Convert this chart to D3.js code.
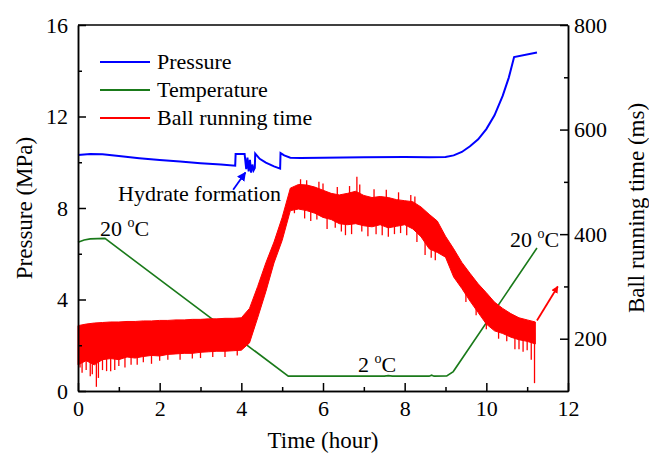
<!DOCTYPE html>
<html>
<head>
<meta charset="utf-8">
<script src="https://cdn.jsdelivr.net/npm/d3@7/dist/d3.min.js"></script>
<style>
body { margin: 0; background: #fff; }
text { font-family: "Liberation Serif", "Times New Roman", serif; font-weight: normal; fill: #000; }
</style>
</head>
<body>
<script>
var w = 649;
var h = 456;

// pressure (MPa), left axis
var pressureT = [0, 0.3, 0.6, 1.0, 1.5, 2.0, 2.5, 3.0, 3.5, 3.85, 3.86, 4.08, 4.12, 4.15, 4.18, 4.21, 4.24, 4.27, 4.3, 4.33, 4.34, 4.45, 4.6, 4.8, 4.95, 4.96, 5.05, 5.2, 5.45, 6, 7, 8, 8.6, 9.0, 9.2, 9.4, 9.6, 9.8, 10.0, 10.2, 10.4, 10.55, 10.68, 11.24];
var pressureV = [10.32, 10.36, 10.35, 10.27, 10.18, 10.1, 10.03, 9.96, 9.9, 9.85, 10.36, 10.36, 9.7, 10.2, 9.6, 10.1, 9.55, 9.9, 9.65, 9.75, 10.38, 10.15, 9.98, 9.82, 9.72, 10.4, 10.3, 10.2, 10.19, 10.2, 10.22, 10.23, 10.22, 10.23, 10.3, 10.45, 10.7, 11.0, 11.45, 12.05, 12.9, 13.7, 14.6, 14.8];

// temperature trace, drawn against the left scale
var tempT = [0, 0.15, 0.3, 0.66, 5.15, 6, 7, 7.5, 7.6, 7.7, 8.6, 8.66, 8.72, 9.03, 9.19, 11.24];
var tempV = [6.5, 6.6, 6.65, 6.67, 0.65, 0.65, 0.65, 0.65, 0.67, 0.65, 0.65, 0.69, 0.65, 0.66, 0.85, 6.25];

// ball running time (ms), right axis: upper and lower edge of the noisy band
var ballT = [0, 0.2, 0.4, 0.6, 0.8, 1.0, 1.2, 1.4, 1.6, 1.8, 2.0, 2.2, 2.4, 2.6, 2.8, 3.0, 3.2, 3.4, 3.6, 3.8, 4.0, 4.2, 4.4, 4.6, 4.8, 5.0, 5.2, 5.4, 5.6, 5.8, 6.0, 6.2, 6.4, 6.6, 6.8, 7.0, 7.2, 7.4, 7.6, 7.8, 8.0, 8.2, 8.4, 8.6, 8.8, 9.0, 9.2, 9.4, 9.6, 9.8, 10.0, 10.2, 10.4, 10.6, 10.8, 11.0, 11.2];
var ballHi = [225, 228, 230, 231, 232, 232, 233, 233, 234, 234, 235, 235, 236, 236, 237, 237, 238, 238, 239, 239, 240, 258, 300, 345, 385, 432, 488, 495, 494, 490, 484, 478, 475, 478, 482, 474, 470, 472, 470, 466, 464, 462, 452, 438, 425, 396, 372, 346, 325, 305, 288, 270, 258, 248, 240, 236, 232];
var ballLo = [150, 158, 150, 160, 162, 160, 165, 163, 166, 168, 167, 170, 171, 172, 172, 174, 175, 176, 176, 177, 178, 192, 240, 290, 345, 388, 445, 448, 445, 440, 432, 428, 420, 418, 420, 416, 414, 418, 412, 415, 418, 410, 395, 372, 365, 356, 318, 296, 272, 250, 228, 215, 210, 203, 198, 195, 190];
// single spikes sticking out of the band
var spikeT = [0.05, 0.1, 0.2, 0.3, 0.35, 0.45, 0.5, 0.6, 0.7, 0.8, 0.9, 1.0, 1.15, 1.3, 1.45, 1.6, 1.8, 2.0, 2.2, 2.5, 2.8, 3.0, 3.3, 3.6, 3.9,
	5.3, 5.45, 5.55, 5.6, 5.7, 5.85, 5.9, 6.0, 6.1, 6.3, 6.35, 6.45, 6.55, 6.65, 6.7, 6.83, 6.9, 6.95, 7.1, 7.25, 7.3, 7.45, 7.55, 7.6, 7.75, 7.85, 7.9, 8.05, 8.15, 8.25, 8.3, 8.5, 8.65, 8.75,
	9.5, 9.75, 10.0, 10.3, 10.5, 10.7, 10.8, 10.9, 11.0, 11.1, 11.18];
var spikeV = [145, 135, 140, 128, 132, 108, 125, 140, 138, 138, 140, 148, 145, 150, 150, 155, 152, 158, 160, 160, 162, 163, 165, 165, 168,
	440, 505, 430, 503, 425, 428, 500, 497, 410, 412, 490, 405, 398, 492, 400, 510, 495, 405, 396, 486, 400, 398, 485, 395, 400, 480, 402, 398, 475, 472, 385, 360, 355, 350,
	270, 245, 218, 200, 195, 180, 180, 175, 178, 160, 115];

var xTicks = [0, 2, 4, 6, 8, 10, 12];
var xMinor = [1, 3, 5, 7, 9, 11];
var pTicks = [0, 4, 8, 12, 16];
var pMinor = [2, 6, 10, 14];
var bTicks = [200, 400, 600, 800];
var bMinor = [300, 500, 700];

var legendNames = ["Pressure", "Temperature", "Ball running time"];
var legendColors = ["#0000ff", "#1a7a1a", "#ff0000"];

var plotL = 78, plotR = 568, plotT = 25, plotB = 391;

var xScale = d3.scaleLinear().domain([0, 12]).range([plotL, plotR]);
var yP = d3.scaleLinear().domain([0, 16]).range([plotB, plotT]);
var yB = d3.scaleLinear().domain([100, 800]).range([plotB, plotT]);

var svg = d3.select("body")
	.append("svg")
	.attr("width", w)
	.attr("height", h);

// red band
var band = d3.range(ballT.length).map(function(i) {
	return {t: ballT[i], hi: ballHi[i], lo: ballLo[i]};
});
var mid = d3.scaleLinear().domain(ballT).range(ballT.map(function(t, i) {
	return (ballHi[i] + ballLo[i]) / 2;
}));

// green first, red band over it
svg.append("path")
	.datum(d3.zip(tempT, tempV))
	.attr("fill", "none")
	.attr("stroke", legendColors[1])
	.attr("stroke-width", 1.6)
	.attr("d", d3.line()
		.x(function(d) { return xScale(d[0]); })
		.y(function(d) { return yP(d[1]); }));

svg.append("path")
	.datum(band)
	.attr("fill", "#ff0000")
	.attr("stroke", "#ff0000")
	.attr("stroke-width", 1)
	.attr("d", d3.area()
		.x(function(d) { return xScale(d.t); })
		.y0(function(d) { return yB(d.lo); })
		.y1(function(d) { return yB(d.hi); }));

svg.selectAll(".spike")
	.data(d3.zip(spikeT, spikeV))
	.enter()
	.append("line")
	.attr("class", "spike")
	.attr("stroke", "#ff0000")
	.attr("stroke-width", 1.3)
	.attr("x1", function(d) { return xScale(d[0]); })
	.attr("x2", function(d) { return xScale(d[0]); })
	.attr("y1", function(d) { return yB(mid(d[0])); })
	.attr("y2", function(d) { return yB(d[1]); });

svg.append("path")
	.datum(d3.zip(pressureT, pressureV))
	.attr("fill", "none")
	.attr("stroke", legendColors[0])
	.attr("stroke-width", 2)
	.attr("d", d3.line()
		.x(function(d) { return xScale(d[0]); })
		.y(function(d) { return yP(d[1]); }));

// axes, ticks pointing inward
function styleAxis(g) {
	g.selectAll("path").attr("stroke", "#000").attr("stroke-width", 1.5);
	g.selectAll("line").attr("stroke", "#000").attr("stroke-width", 1.5);
	g.selectAll("text").attr("font-size", 22).attr("font-family", null);
}

svg.append("g")
	.attr("transform", "translate(0," + plotB + ")")
	.call(d3.axisBottom(xScale).tickValues(xMinor).tickSize(-4).tickFormat("").tickSizeOuter(0))
	.call(styleAxis);
svg.append("g")
	.attr("transform", "translate(0," + plotB + ")")
	.call(d3.axisBottom(xScale).tickValues(xTicks).tickSize(-8).tickPadding(9).tickSizeOuter(0))
	.call(styleAxis);

svg.append("g")
	.attr("transform", "translate(" + plotL + ",0)")
	.call(d3.axisLeft(yP).tickValues(pMinor).tickSize(-4).tickFormat("").tickSizeOuter(0))
	.call(styleAxis);
svg.append("g")
	.attr("transform", "translate(" + plotL + ",0)")
	.call(d3.axisLeft(yP).tickValues(pTicks).tickSize(-8).tickPadding(10).tickSizeOuter(0))
	.call(styleAxis);

svg.append("g")
	.attr("transform", "translate(" + plotR + ",0)")
	.call(d3.axisRight(yB).tickValues(bMinor).tickSize(-4).tickFormat("").tickSizeOuter(0))
	.call(styleAxis);
svg.append("g")
	.attr("transform", "translate(" + plotR + ",0)")
	.call(d3.axisRight(yB).tickValues(bTicks).tickSize(-8).tickPadding(6).tickSizeOuter(0))
	.call(styleAxis);

svg.append("line")
	.attr("x1", plotL).attr("x2", plotR)
	.attr("y1", plotT).attr("y2", plotT)
	.attr("stroke", "#000").attr("stroke-width", 1.5);

// axis titles
svg.append("text")
	.attr("x", (plotL + plotR) / 2)
	.attr("y", 448)
	.attr("text-anchor", "middle")
	.attr("font-size", 23)
	.text("Time (hour)");

svg.append("text")
	.attr("transform", "translate(32," + (plotT + plotB) / 2 + ") rotate(-90)")
	.attr("text-anchor", "middle")
	.attr("font-size", 23)
	.text("Pressure (MPa)");

svg.append("text")
	.attr("transform", "translate(644," + (plotT + plotB) / 2 + ") rotate(-90)")
	.attr("text-anchor", "middle")
	.attr("font-size", 23)
	.text("Ball running time (ms)");

// legend
var legend = svg.selectAll(".legend")
	.data(legendNames)
	.enter()
	.append("g")
	.attr("class", "legend")
	.attr("transform", function(d, i) { return "translate(100," + (62 + i * 28) + ")"; });
legend.append("line")
	.attr("x1", 0).attr("x2", 50)
	.attr("stroke", function(d, i) { return legendColors[i]; })
	.attr("stroke-width", 2);
legend.append("text")
	.attr("x", 57)
	.attr("y", 7)
	.attr("font-size", 22)
	.text(function(d) { return d; });

// annotations
function degLabel(x, y, num) {
	var t = svg.append("text").attr("x", x).attr("y", y).attr("font-size", 22);
	t.append("tspan").text(num + " ");
	t.append("tspan").attr("font-size", 14).attr("dy", -9).text("o");
	t.append("tspan").attr("dy", 9).text("C");
}
degLabel(100, 236, "20");
degLabel(358, 372, "2");
degLabel(510, 247, "20");

svg.append("text")
	.attr("x", 118)
	.attr("y", 201)
	.attr("font-size", 22)
	.text("Hydrate formation");

var defs = svg.append("defs");
["blue", "red"].forEach(function(c) {
	defs.append("marker")
		.attr("id", "head-" + c)
		.attr("viewBox", "0 0 10 10")
		.attr("refX", 9).attr("refY", 5)
		.attr("markerWidth", c === "blue" ? 5 : 4).attr("markerHeight", c === "blue" ? 5 : 4)
		.attr("orient", "auto")
		.append("path")
		.attr("d", "M0,0L10,5L0,10z")
		.attr("fill", c === "blue" ? "#0000ff" : "#ff0000");
});

svg.append("line")
	.attr("x1", xScale(3.8)).attr("y1", yP(8.8))
	.attr("x2", xScale(4.1)).attr("y2", yP(9.55))
	.attr("stroke", "#0000ff").attr("stroke-width", 1.8)
	.attr("marker-end", "url(#head-blue)");

svg.append("line")
	.attr("x1", xScale(11.24)).attr("y1", yB(235))
	.attr("x2", xScale(11.75)).attr("y2", yB(300))
	.attr("stroke", "#ff0000").attr("stroke-width", 1.8)
	.attr("marker-end", "url(#head-red)");
</script>
</body>
</html>
